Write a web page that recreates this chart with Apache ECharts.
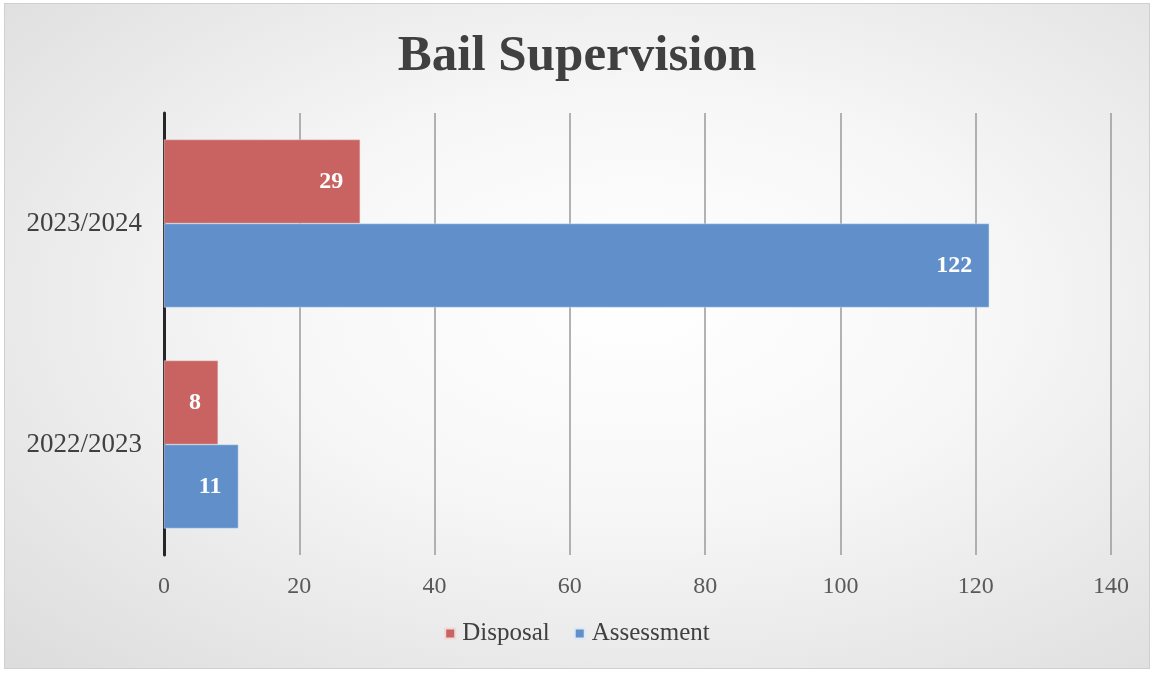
<!DOCTYPE html>
<html><head><meta charset="utf-8">
<script src="https://cdn.jsdelivr.net/npm/echarts@6/dist/echarts.min.js"></script>
<style>
html,body{margin:0;padding:0;background:#fff;}
#c{position:absolute;left:4px;top:3px;width:1144px;height:664px;border:1px solid #d0d0d0;
background:radial-gradient(ellipse at 55% 45%, #ffffff 0%, #f7f7f7 40%, #dcdcdc 100%);}
</style></head>
<body><div id="c"></div>
<script>
const categories = ['2022/2023', '2023/2024'];
const disposal = [8, 29];
const assessment = [11, 122];
const xTicks = {min: 0, max: 140, interval: 20};
const serif = "'Liberation Serif', 'DejaVu Serif', serif";
const chart = echarts.init(document.getElementById('c'));
const labelStyle = {show: true, position: 'insideRight', distance: 17, color: '#fff', fontWeight: 'bold', fontSize: 24, fontFamily: serif};
chart.setOption({
  title: {text: 'Bail Supervision', left: 'center', top: 22, textStyle: {fontFamily: serif, fontWeight: 'bold', fontSize: 51, color: '#404040'}},
  legend: {data: ['Disposal', 'Assessment'], bottom: 17, left: 'center', itemWidth: 10, itemHeight: 10, itemGap: 24, icon: 'rect',
    textStyle: {fontFamily: serif, fontSize: 25, color: '#404040', padding: [0,0,0,2]}},
  grid: {left: 159, right: 38, top: 109, bottom: 113},
  xAxis: {type: 'value', min: xTicks.min, max: xTicks.max, interval: xTicks.interval,
    axisLabel: {fontFamily: serif, fontSize: 24, color: '#595959', margin: 20},
    axisLine: {show: false}, axisTick: {show: false},
    splitLine: {lineStyle: {color: '#9a9a9a', width: 1.5}}},
  yAxis: {type: 'category', data: categories,
    axisLabel: {fontFamily: serif, fontSize: 27, color: '#404040', margin: 22},
    axisLine: {lineStyle: {color: '#262626', width: 3}}, axisTick: {show: false}},
  series: [
    {name: 'Disposal', type: 'bar', data: disposal, barGap: '0%', barCategoryGap: '24%',
      itemStyle: {color: '#c86362', borderColor: '#f0d8d8', borderWidth: 0.5}, label: labelStyle},
    {name: 'Assessment', type: 'bar', data: assessment, barGap: '0%', barCategoryGap: '24%',
      itemStyle: {color: '#608fca', borderColor: '#dce8f5', borderWidth: 0.5}, label: labelStyle}
  ]
});
</script></body></html>
